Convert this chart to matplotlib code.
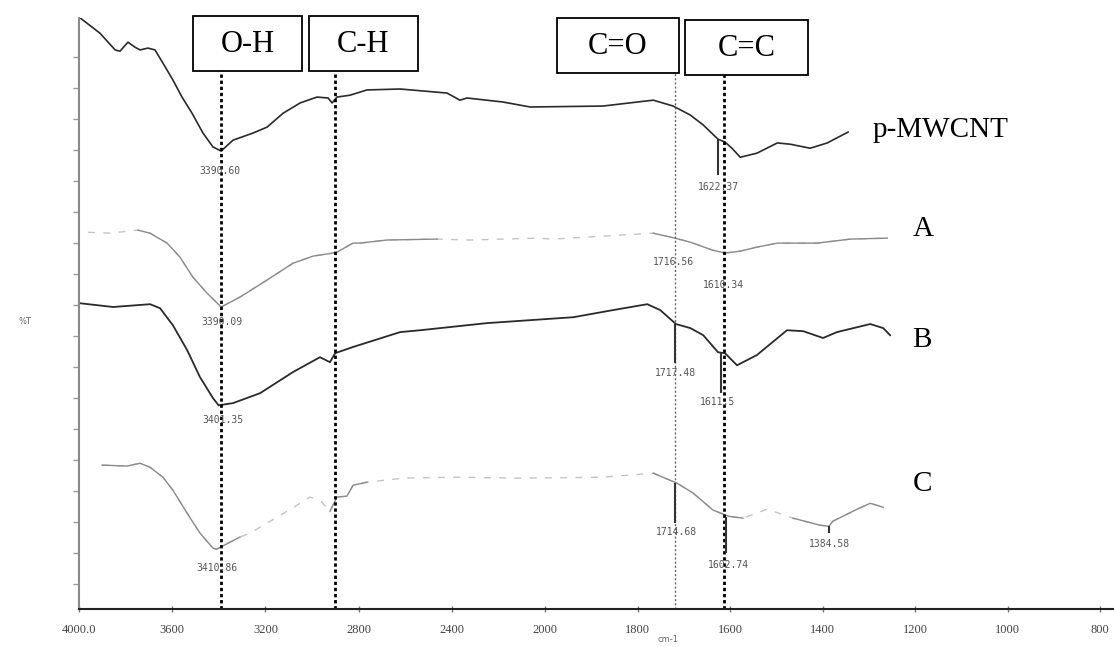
import numpy as np
import matplotlib.pyplot as plt
from matplotlib.patches import Rectangle

# FTIR spectra, wavenumber (cm-1) vs %T (stacked, offset per sample)
pmwcnt_wn = [4000, 3910, 3845, 3824, 3790, 3760, 3738, 3704, 3674, 3640, 3597, 3558, 3515,
             3468, 3425, 3390, 3339, 3253, 3193, 3124, 3051, 2979, 2931, 2914, 2893, 2837,
             2764, 2622, 2421, 2365, 2335, 2180, 2064, 1875, 1766, 1723, 1686, 1658, 1626,
             1611, 1596, 1578, 1542, 1498, 1470, 1427, 1390, 1345]
pmwcnt_t = [18.29, 17.77, 17.23, 17.19, 17.48, 17.32, 17.23, 17.29, 17.23, 16.81, 16.26, 15.71,
            15.19, 14.55, 14.10, 13.97, 14.32, 14.55, 14.74, 15.19, 15.52, 15.71, 15.68, 15.52,
            15.71, 15.77, 15.94, 15.97, 15.84, 15.61, 15.68, 15.55, 15.39, 15.42, 15.61, 15.42,
            15.13, 14.81, 14.35, 14.26, 14.06, 13.77, 13.90, 14.23, 14.19, 14.06, 14.23, 14.58]

a_wn = [3961, 3867, 3747, 3695, 3622, 3567, 3511, 3451, 3390, 3309, 3193, 3082, 2996, 2910,
        2893, 2824, 2794, 2678, 2463, 2322, 2034, 1983, 1766, 1719, 1686, 1637, 1611, 1578,
        1542, 1498, 1412, 1340, 1260]
a_t = [11.35, 11.32, 11.42, 11.32, 11.00, 10.55, 9.90, 9.39, 8.94, 9.26, 9.81, 10.35, 10.58,
       10.68, 10.71, 11.00, 11.00, 11.10, 11.13, 11.10, 11.16, 11.13, 11.32, 11.16, 11.03,
       10.77, 10.68, 10.74, 10.87, 11.00, 11.00, 11.13, 11.16]

b_wn = [3995, 3854, 3695, 3652, 3597, 3536, 3481, 3425, 3401, 3339, 3223, 3082, 2966, 2923,
        2901, 2824, 2622, 2536, 2249, 1939, 1853, 1779, 1751, 1717, 1686, 1658, 1626, 1611,
        1585, 1542, 1477, 1442, 1399, 1369, 1297, 1269, 1254]
b_t = [9.06, 8.94, 9.03, 8.90, 8.35, 7.55, 6.68, 6.00, 5.77, 5.84, 6.16, 6.84, 7.32, 7.16,
       7.45, 7.65, 8.13, 8.19, 8.42, 8.61, 8.84, 9.03, 8.84, 8.39, 8.26, 8.03, 7.48, 7.45,
       7.06, 7.39, 8.19, 8.16, 7.94, 8.13, 8.39, 8.26, 8.03]

c_wn = [3901, 3794, 3738, 3695, 3640, 3597, 3536, 3481, 3425, 3410, 3309, 3266, 3150, 3051,
        3009, 2966, 2923, 2893, 2850, 2824, 2764, 2609, 2395, 2107, 1875, 1766, 1715, 1680,
        1637, 1603, 1572, 1520, 1464, 1405, 1386, 1378, 1325, 1297, 1269]
c_t = [3.84, 3.81, 3.90, 3.77, 3.45, 3.03, 2.29, 1.65, 1.16, 1.13, 1.52, 1.65, 2.16, 2.61,
       2.81, 2.71, 2.35, 2.81, 2.84, 3.19, 3.29, 3.42, 3.45, 3.42, 3.45, 3.58, 3.26, 2.94,
       2.39, 2.19, 2.13, 2.42, 2.13, 1.90, 1.87, 2.03, 2.42, 2.61, 2.48]

# peak readouts: label, wavenumber, %T of label
peak_text = ['3390.60', '1622.37', '3390.09', '1716.56', '1610.34', '3401.35', '1717.48',
             '1611.5', '3410.86', '1714.68', '1602.74', '1384.58']
peak_wn = [3395, 1626, 3386, 1723, 1615, 3382, 1719, 1628, 3408, 1715, 1604, 1386]
peak_t = [13.32, 12.81, 8.45, 10.39, 9.65, 5.29, 6.81, 5.87, 0.52, 1.68, 0.61, 1.29]

# short vertical peak markers: wavenumber, top, bottom
mark_wn = [1626, 1719, 1619, 1719, 1609, 1386]
mark_top = [14.35, 8.39, 7.45, 3.26, 2.16, 1.87]
mark_bot = [13.19, 7.13, 6.16, 1.97, 1.00, 1.65]

# functional group bands
band_names = ['O-H', 'C-H', 'C=O', 'C=C']
band_wn = [3390, 2900, 1719, 1613]
band_top = [16.55, 16.55, 16.48, 16.42]

sample_names = ['p-MWCNT', 'A', 'B', 'C']
sample_label_t = [14.65, 11.45, 7.87, 3.23]

ticks = [4000, 3600, 3200, 2800, 2400, 2000, 1800, 1600, 1400, 1200, 1000, 800]
tick_labels = ['4000.0', '3600', '3200', '2800', '2400', '2000', '1800', '1600',
               '1400', '1200', '1000', '800']

# the instrument axis is expanded 2x below 2000 cm-1
_wn_pts = [0, 800, 2000, 4000, 6000]
_pos_pts = [1470.0, 1100.0, 545.0, 79.0, -387.0]


def forward(x):
    return -np.interp(x, _wn_pts, _pos_pts)


def inverse(p):
    return np.interp(-np.asarray(p), _pos_pts[::-1], _wn_pts[::-1])


W, H = 1114, 647
fig = plt.figure(figsize=(W / 100, H / 100), dpi=100)
ax = fig.add_axes([79 / W, (H - 609) / H, (W - 79) / W, (609 - 18) / H])
ax.set_xscale('function', functions=(forward, inverse))
ax.set_xlim(4000, 770)
ax.set_ylim(-0.8, 18.26)

dark = '#2a2a2a'
light = '#8a8a8a'
faint = '#c4c4c4'


def faded_curve(wn, t, solid_ranges):
    wn = np.array(wn)
    t = np.array(t)
    ax.plot(wn, t, color=faint, lw=1.0, ls=(0, (5, 6)))
    for lo, hi in solid_ranges:
        m = (wn >= lo) & (wn <= hi)
        ax.plot(wn[m], t[m], color=light, lw=1.0)


ax.plot(pmwcnt_wn, pmwcnt_t, color=dark, lw=1.2)
faded_curve(a_wn, a_t, [(2450, 3750), (1255, 1766)])
ax.plot(b_wn, b_t, color=dark, lw=1.3)
faded_curve(c_wn, c_t, [(3300, 3910), (2740, 2930), (1560, 1766), (1260, 1470)])

# band lines
for i in range(len(band_wn)):
    if band_names[i] == 'C=O':
        ax.vlines(band_wn[i], -0.8, band_top[i], colors='#666666', lw=1.0,
                  linestyles=(0, (1.5, 1.5)), clip_on=False)
    else:
        ax.vlines(band_wn[i], -0.8, band_top[i], colors='black', lw=2.0,
                  linestyles=(0, (1.2, 1.0)), clip_on=False)

for i in range(len(mark_wn)):
    ax.vlines(mark_wn[i], mark_bot[i], mark_top[i], colors='#333333', lw=1.5)

for i in range(len(peak_text)):
    ax.text(peak_wn[i], peak_t[i], peak_text[i], ha='center', va='center',
            fontsize=7, family='DejaVu Sans Mono', color='#555555')

for i in range(len(sample_names)):
    x0 = 1293 if i == 0 else 1206
    ax.text(x0, sample_label_t[i], sample_names[i], ha='left', va='center',
            fontsize=21, family='Liberation Serif', color='black')

# group boxes on top
boxes = [(193, 16, 302, 71), (309, 16, 418, 71), (557, 18, 679, 73), (685, 20, 808, 75)]
for name, (x0, y0, x1, y1) in zip(band_names, boxes):
    fig.add_artist(Rectangle((x0 / W, 1 - y1 / H), (x1 - x0) / W, (y1 - y0) / H,
                             transform=fig.transFigure, fill=True, facecolor='white',
                             edgecolor='black', lw=1.3))
    fig.text((x0 + x1) / 2 / W, 1 - ((y0 + y1) / 2 + 1) / H, name, ha='center', va='center',
             fontsize=22, family='Liberation Serif')

ax.spines['top'].set_visible(False)
ax.spines['right'].set_visible(False)
ax.spines['left'].set_color('#8a8a8a')
ax.spines['left'].set_linewidth(1.5)
ax.spines['bottom'].set_color('#222222')
ax.spines['bottom'].set_linewidth(1.5)

ax.set_xticks(ticks)
ax.set_xticklabels(tick_labels, family='Liberation Serif', fontsize=9, color='#444444')
ax.xaxis.set_minor_locator(plt.NullLocator())
ax.tick_params(axis='x', direction='inout', length=5, width=1, color='#777777', pad=8)

ax.set_yticks(np.arange(0, 18))
ax.set_yticklabels([])
ax.tick_params(axis='y', direction='out', length=4, width=1, color='#999999')

fig.text(25 / W, 1 - 322 / H, '%T', fontsize=6, color='#666666', ha='center', va='center')
fig.text(668 / W, 1 - 639 / H, 'cm-1', fontsize=6, color='#666666', ha='center', va='center')

fig.savefig('out.png', dpi=100)
